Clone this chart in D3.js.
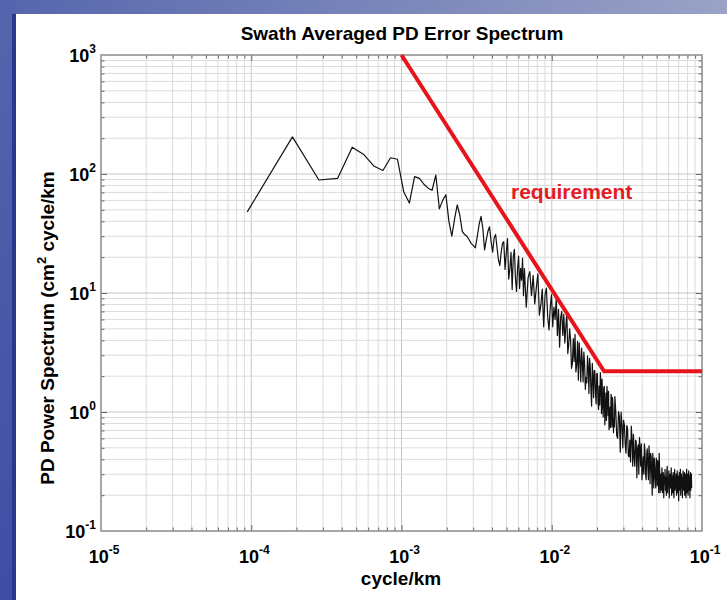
<!DOCTYPE html>
<html>
<head>
<meta charset="utf-8">
<script src="https://cdn.jsdelivr.net/npm/d3@7"></script>
<style>
body { margin: 0; background: #fff; }
svg { display: block; font-family: "Liberation Sans", Arial, sans-serif; }
</style>
</head>
<body>
<svg id="chart" width="727" height="600"></svg>
<script>
// Spectrum samples: harmonic number of the record's fundamental and PD power
var baseFreq = 9.4e-5; // cycle/km

var harmonic = [
    1,2,3,4,5,6,7,8,9,10,11,12,13,14,15,16,17,18,19,20,21,22,23,24,25,26,27,28,29,30,31,32,33,34,
    35,36,37,38,39,40,41,42,43,44,45,46,47,48,49,50,51,52,53,54,55,56,57,58,59,60,61,62,63,64,65,66,67,68,69,70,
    72,74,76,78,80,82,84,86,88,90,92,94,96,98,100,102,104,106,108,110,112,114,116,118,120,122,124,126,128,130,132,134,136,138,140,
    142,144,146,148,150,152,154,156,158,160,162,164,166,168,170,172,174,176,178,180,
    182,184,186,188,190,192,194,196,198,200,202,204,206,208,210,212,214,216,218,220,
    222,224,226,228,230,232,234,236,238,240,242,244,246,248,250,252,254,256,258,260,
    262,264,266,268,270,272,274,276,278,280,
    284,288,292,296,300,304,308,312,316,320,324,328,332,336,340,344,348,352,356,360,
    364,368,372,376,380,384,388,392,396,400,404,408,412,416,420,424,428,432,436,440,
    444,448,452,456,460,464,468,472,476,480,484,488,492,496,500,504,508,512,516,520,
    524,528,532,536,540,544,548,552,556,560,
    564,568,572,576,580,584,588,592,596,600,604,608,612,616,620,624,628,632,636,640,
    644,648,652,656,660,664,668,672,676,680,684,688,692,696,700,704,708,712,716,720,
    724,728,732,736,740,744,748,752,756,760,764,768,772,776,780,784,788,792,796,800,
    804,808,812,816,820,824,828,832,836,840,844,848,852,856,860,864,868,872,876,880,
    884,888,892,896,900,904,908
];

var power = [
    48,205,89,92,168,145,116,107,137,133,71,57,95,92,82,76,73,98,51,60,67,40,30,42,55,45,33,31,30,28,26,25,24,30,
    38,44,35,23,28,33,36,27,22,29,31,24,19,17,22,26,27,15.8,21.8,28.7,13.1,16,22,10.7,20.2,23.3,13.3,10.3,16,20.4,10.9,16.1,12.8,19.6,9.5,16,
    7.6,13.4,15.1,9.5,14.1,8.1,11.1,14.5,6.5,7.9,10.8,5.2,9.7,11,6.3,4.9,7.6,9.7,5.2,7.6,6.0,9.0,4.4,7.3,3.5,6.2,7.0,4.4,6.6,3.8,5.2,6.8,3.1,3.7,5.0,
    4.0,2.33,2.57,4.14,2.66,4.5,2.17,2.49,3.92,1.85,3.81,2.78,1.8,3.45,2.66,1.79,3.19,2.53,1.55,1.95,
    1.76,2.96,2.41,1.43,2.83,2.36,1.51,1.12,2.56,1.98,1.32,2.23,2.21,1.41,1.17,2.1,2.1,1.21,1.05,1.65,
    1.15,2.14,1.75,0.97,1.89,1.17,0.91,1.61,1.64,0.78,1.04,1.44,0.85,1.64,1.37,0.93,1.49,0.71,0.8,1.1,
    0.74,1.41,1.3,0.75,1.32,1.12,0.67,0.88,0.75,1.35,
    0.99,0.63,0.6,1.01,0.92,0.46,1.0,0.79,0.5,0.85,0.77,0.53,0.45,0.77,0.73,0.43,0.42,0.58,0.38,0.76,
    0.59,0.35,0.65,0.42,0.35,0.58,0.57,0.28,0.49,0.53,0.3,0.61,0.49,0.35,0.54,0.27,0.34,0.42,0.3,0.54,
    0.47,0.30,0.27,0.44,0.49,0.34,0.27,0.52,0.41,0.25,0.45,0.42,0.3,0.20,0.45,0.36,0.23,0.41,0.35,0.27,
    0.23,0.41,0.37,0.24,0.39,0.34,0.21,0.45,0.32,0.21,
    0.30,0.22,0.27,0.34,0.21,0.26,0.31,0.19,0.29,0.25,0.33,0.22,0.28,0.20,0.31,0.35,0.21,0.27,0.24,0.32,
    0.19,0.26,0.30,0.23,0.28,0.34,0.20,0.25,0.29,0.21,0.31,0.26,0.19,0.28,0.33,0.22,0.27,0.24,0.30,0.20,
    0.26,0.32,0.21,0.29,0.25,0.18,0.28,0.31,0.22,0.27,0.33,0.20,0.25,0.30,0.23,0.28,0.19,0.26,0.32,0.22,
    0.29,0.24,0.31,0.20,0.27,0.23,0.30,0.19,0.26,0.33,0.21,0.28,0.24,0.30,0.20,0.27,0.32,0.22,0.25,0.29,
    0.19,0.27,0.31,0.22,0.26,0.30,0.23
];

// Requirement curve (red)
var reqFreq = [1e-3, 0.0223, 0.1];
var reqPower = [1000, 2.2, 2.2];

// Decade exponents for the tick labels
var xExponents = [-5, -4, -3, -2, -1];
var yExponents = [-1, 0, 1, 2, 3];

// NOTE: can't call these top/left, window.top is read only
var plotLeft = 101, plotRight = 702, plotTop = 55, plotBottom = 531;

var svg = d3.select('#chart');

// Slide background strips (blue frame top and left)
var defs = svg.append('defs');
var topGrad = defs.append('linearGradient').attr('id', 'topGrad')
    .attr('x1', 0).attr('x2', 1).attr('y1', 0).attr('y2', 0);
topGrad.append('stop').attr('offset', 0).attr('stop-color', '#5666ad');
topGrad.append('stop').attr('offset', 1).attr('stop-color', '#9aa2c6');
var leftGrad = defs.append('linearGradient').attr('id', 'leftGrad')
    .attr('x1', 0).attr('x2', 0).attr('y1', 0).attr('y2', 1);
leftGrad.append('stop').attr('offset', 0).attr('stop-color', '#5565ad');
leftGrad.append('stop').attr('offset', 1).attr('stop-color', '#3e4ea4');

svg.append('rect').attr('x', 0).attr('y', 0).attr('width', 727).attr('height', 14)
    .style('fill', 'url(#topGrad)');
svg.append('rect').attr('x', 0).attr('y', 0).attr('width', 16).attr('height', 600)
    .style('fill', 'url(#leftGrad)');
svg.append('rect').attr('x', 12).attr('y', 14).attr('width', 4).attr('height', 586)
    .style('fill', '#2a378c');

var x = d3.scaleLog().domain([1e-5, 1e-1]).range([plotLeft, plotRight]);
var y = d3.scaleLog().domain([1e-1, 1e3]).range([plotBottom, plotTop]);

var xAll = x.ticks().filter(function(d) { return d > 1.0001e-5 && d < 0.9999e-1; });
var yAll = y.ticks().filter(function(d) { return d > 1.0001e-1 && d < 0.9999e3; });
var isMajor = function(d) { return Math.abs(Math.log10(d) - Math.round(Math.log10(d))) < 1e-6; };

// Grid lines
var grid = svg.append('g');
grid.selectAll('.vgrid').data(xAll).enter().append('line')
    .attr('x1', function(d) { return x(d); }).attr('x2', function(d) { return x(d); })
    .attr('y1', plotTop).attr('y2', plotBottom)
    .style('stroke', function(d) { return isMajor(d) ? '#c4c4c4' : '#dcdcdc'; })
    .style('stroke-width', 1);
grid.selectAll('.hgrid').data(yAll).enter().append('line')
    .attr('y1', function(d) { return y(d); }).attr('y2', function(d) { return y(d); })
    .attr('x1', plotLeft).attr('x2', plotRight)
    .style('stroke', function(d) { return isMajor(d) ? '#c4c4c4' : '#dcdcdc'; })
    .style('stroke-width', 1);

// Inward ticks on all four sides (negative tick size points into the plot)
var tickLen = function(d) { return isMajor(d) ? 6 : 3.5; };
var sides = [
    {axis: d3.axisBottom(x).tickValues(xAll), tr: 'translate(0,' + plotBottom + ')', attr: 'y2'},
    {axis: d3.axisTop(x).tickValues(xAll), tr: 'translate(0,' + plotTop + ')', attr: 'y2'},
    {axis: d3.axisLeft(y).tickValues(yAll), tr: 'translate(' + plotLeft + ',0)', attr: 'x2'},
    {axis: d3.axisRight(y).tickValues(yAll), tr: 'translate(' + plotRight + ',0)', attr: 'x2'}
];
var inward = [-1, 1, 1, -1];
sides.forEach(function(s, i) {
    var g = svg.append('g').attr('transform', s.tr)
        .call(s.axis.tickFormat('').tickSizeOuter(0));
    g.select('.domain').remove();
    g.selectAll('.tick line')
        .attr(s.attr, function(d) { return inward[i] * tickLen(d); })
        .style('stroke', '#666');
});

// Plot frame
svg.append('rect').attr('x', plotLeft).attr('y', plotTop)
    .attr('width', plotRight - plotLeft).attr('height', plotBottom - plotTop)
    .style('fill', 'none').style('stroke', '#8a8a8a').style('stroke-width', 1.5);

// Spectrum line
svg.append('clipPath').attr('id', 'plotClip').append('rect')
    .attr('x', plotLeft).attr('y', plotTop)
    .attr('width', plotRight - plotLeft).attr('height', plotBottom - plotTop);

var spectrum = harmonic.map(function(n, i) { return {f: n * baseFreq, p: power[i]}; });
var line = d3.line()
    .x(function(d) { return x(d.f); })
    .y(function(d) { return y(d.p); });

svg.append('path').datum(spectrum)
    .attr('d', line)
    .attr('clip-path', 'url(#plotClip)')
    .style('fill', 'none').style('stroke', '#111').style('stroke-width', 1.2)
    .style('stroke-linejoin', 'round');

// Requirement line
var req = reqFreq.map(function(f, i) { return {f: f, p: reqPower[i]}; });
svg.append('path').datum(req)
    .attr('d', line)
    .style('fill', 'none').style('stroke', '#e8141c').style('stroke-width', 4)
    .style('stroke-linejoin', 'miter');

svg.append('text').attr('x', 511).attr('y', 199)
    .text('requirement')
    .style('font-size', '21px').style('font-weight', 'bold').style('fill', '#e31b23');

// Tick labels as 10 with exponent
var yLab = svg.selectAll('.ylab').data(yExponents).enter().append('text')
    .attr('x', 96)
    .attr('y', function(d) { return y(Math.pow(10, d)) + 7; })
    .style('text-anchor', 'end').style('font-weight', 'bold').style('font-size', '18px');
yLab.append('tspan').text('10');
yLab.append('tspan').attr('dy', -9).style('font-size', '12px').text(function(d) { return d; });

var xLab = svg.selectAll('.xlab').data(xExponents).enter().append('text')
    .attr('x', function(d) { return x(Math.pow(10, d)) + 3; })
    .attr('y', 563)
    .style('text-anchor', 'middle').style('font-weight', 'bold').style('font-size', '18px');
xLab.append('tspan').text('10');
xLab.append('tspan').attr('dy', -9).style('font-size', '12px').text(function(d) { return d; });

// Titles
svg.append('text').attr('x', 402).attr('y', 40)
    .style('text-anchor', 'middle').style('font-weight', 'bold').style('font-size', '19px')
    .text('Swath Averaged PD Error Spectrum');

svg.append('text').attr('x', 401).attr('y', 585)
    .style('text-anchor', 'middle').style('font-weight', 'bold').style('font-size', '19px')
    .text('cycle/km');

var yTitle = svg.append('text')
    .attr('transform', 'translate(54,328) rotate(-90)')
    .style('text-anchor', 'middle').style('font-weight', 'bold').style('font-size', '19px');
yTitle.append('tspan').text('PD Power Spectrum (cm');
yTitle.append('tspan').attr('dy', -8).style('font-size', '13px').text('2');
yTitle.append('tspan').attr('dy', 8).text(' cycle/km');
</script>
</body>
</html>
